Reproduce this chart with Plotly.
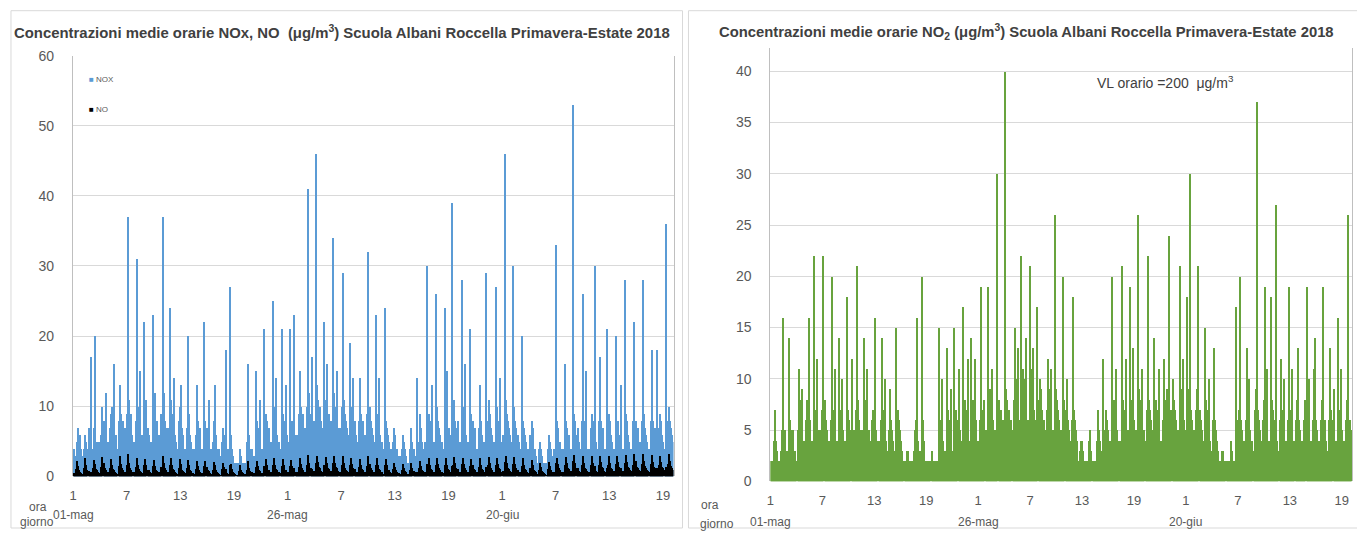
import plotly.graph_objects as go

W, H = 1357, 536
HOURS_PER_BAR = 3  # each value = one 3-hour block, 8 per day, 01-mag .. 09-lug

# NOx (ug/m3), one row per day, 8 three-hour blocks
nox_days = [
    [4,3,3,5,7,5,6,4], [3,2,4,6,5,4,7,5], [17,3,4,7,20,5,5,4], [5,4,6,10,8,7,12,5],
    [5,4,7,9,10,8,16,6], [6,4,8,13,9,7,8,6], [7,5,9,37,11,7,9,6], [5,4,8,31,10,7,15,6],
    [6,4,22,9,11,7,6,5], [5,4,23,8,12,7,8,6], [6,4,9,37,12,8,7,5], [7,5,24,11,9,7,14,6],
    [5,4,8,10,13,7,6,4], [4,3,7,20,9,6,5,4], [4,3,6,13,8,5,7,4], [4,3,22,8,7,6,11,4],
    [4,3,5,8,13,6,4,3], [4,3,5,7,6,5,18,4], [4,3,27,6,4,3,2,2], [2,1,2,4,3,2,2,2],
    [2,2,5,16,6,4,4,3], [3,2,15,8,7,5,11,4], [4,3,21,9,8,6,7,4], [5,4,25,10,8,14,6,5],
    [5,4,21,9,8,7,13,6], [5,4,21,8,7,8,23,6], [6,4,9,15,10,8,9,7], [7,5,10,41,12,9,17,7],
    [8,6,46,13,11,9,10,8], [7,5,22,11,16,8,9,6], [8,6,34,12,10,9,15,7], [7,6,10,29,11,9,8,7],
    [6,5,19,10,9,14,8,6], [5,4,8,14,9,7,8,5], [6,4,9,32,10,8,7,6], [5,4,23,9,8,14,6,5],
    [5,4,24,8,7,6,5,4], [4,3,5,7,6,4,4,3], [3,2,4,6,5,4,3,2], [2,2,4,7,5,4,3,3],
    [14,3,5,9,7,5,4,4], [5,4,30,9,8,6,13,5], [5,4,26,10,8,7,6,5], [5,4,24,9,15,6,7,4],
    [6,39,9,11,8,7,8,5], [5,4,28,10,8,16,6,5], [5,4,21,9,8,6,7,4], [4,4,7,13,8,6,5,4],
    [5,29,8,11,9,7,6,5], [5,4,27,10,8,7,14,5], [6,4,46,11,9,8,7,6], [5,4,30,10,8,7,6,5],
    [4,4,20,8,7,6,5,4], [4,3,6,8,7,4,4,3], [2,2,4,5,4,3,2,2], [2,2,4,6,5,4,3,3],
    [4,3,33,8,7,5,5,4], [4,3,16,8,7,5,6,4], [4,4,53,9,8,6,7,5], [4,4,8,26,8,6,15,4],
    [4,4,7,9,8,6,30,5], [4,4,8,17,8,6,7,4], [4,21,7,9,8,6,5,4], [4,4,20,8,8,6,13,4],
    [4,4,28,9,8,6,5,4], [4,4,8,22,8,6,7,5], [5,4,8,28,9,7,6,5], [4,4,8,18,8,6,7,4],
    [18,4,7,9,8,6,5,4], [36,4,8,10,8,7,6,5],
]

# NO (ug/m3)
no_days = [
    [0.5,0.4,1.1,2.3,1.5,0.9,0.7,0.5], [0.4,0.3,1.3,2.6,1.7,1.0,0.8,0.6], [0.6,0.4,1.2,2.4,1.8,1.1,0.9,0.6],
    [0.5,0.4,1.4,2.8,1.9,1.2,1.0,0.7], [0.6,0.5,1.3,2.5,1.6,1.1,0.9,0.6], [0.5,0.4,1.5,2.9,1.8,1.2,0.9,0.7],
    [0.7,0.5,1.6,3.2,2.0,1.3,1.0,0.7], [0.6,0.4,1.4,2.7,1.7,1.1,0.8,0.6], [0.5,0.4,1.6,2.5,1.6,1.0,0.9,0.6],
    [0.5,0.4,1.5,2.4,1.5,1.0,0.8,0.5], [0.6,0.5,1.4,3.0,1.9,1.2,0.9,0.7], [0.6,0.5,1.7,2.6,1.7,1.1,1.0,0.7],
    [0.5,0.4,1.3,2.5,1.8,1.0,0.8,0.6], [0.5,0.3,1.2,2.4,1.6,1.0,0.8,0.5], [0.4,0.3,1.1,2.2,1.5,0.9,0.7,0.5],
    [0.5,0.4,1.5,2.3,1.4,0.9,0.8,0.5], [0.4,0.3,1.0,2.1,1.6,0.9,0.7,0.5], [0.4,0.3,1.1,2.0,1.4,0.9,1.1,0.5],
    [0.4,0.3,1.6,1.8,1.1,0.7,0.5,0.4], [0.3,0.3,0.8,1.6,1.0,0.6,0.5,0.4], [0.4,0.3,1.0,2.2,1.3,0.8,0.7,0.5],
    [0.5,0.4,1.4,2.3,1.5,0.9,0.8,0.5], [0.5,0.4,1.5,2.5,1.6,1.0,0.9,0.6], [0.6,0.5,1.6,2.6,1.7,1.1,0.9,0.6],
    [0.6,0.5,1.5,2.5,1.6,1.0,1.0,0.7], [0.6,0.5,1.5,2.4,1.5,1.1,1.3,0.7], [0.7,0.5,1.4,2.7,1.8,1.2,1.0,0.7],
    [0.7,0.6,1.6,3.1,2.0,1.3,1.1,0.8], [0.8,0.6,2.0,3.0,2.1,1.4,1.2,0.8], [0.7,0.6,1.7,2.8,1.9,1.3,1.1,0.8],
    [0.8,0.6,1.9,2.9,2.0,1.4,1.2,0.8], [0.7,0.6,1.6,2.9,2.0,1.3,1.0,0.8], [0.7,0.5,1.6,2.7,1.8,1.2,1.1,0.7],
    [0.6,0.5,1.4,2.5,1.7,1.1,1.0,0.7], [0.7,0.5,1.5,2.9,1.8,1.2,1.0,0.7], [0.6,0.5,1.7,2.6,1.7,1.1,0.9,0.7],
    [0.6,0.4,1.6,2.5,1.6,1.0,0.9,0.6], [0.5,0.4,1.1,2.0,1.4,0.9,0.7,0.5], [0.4,0.3,0.9,1.8,1.3,0.8,0.6,0.4],
    [0.4,0.3,1.0,1.9,1.3,0.8,0.7,0.5], [0.6,0.4,1.2,2.3,1.5,1.0,0.8,0.6], [0.6,0.5,1.8,2.6,1.7,1.1,1.0,0.7],
    [0.7,0.5,1.7,2.7,1.8,1.2,1.0,0.7], [0.7,0.5,1.6,2.6,1.7,1.1,1.0,0.7], [0.7,1.5,1.6,2.8,1.9,1.2,1.1,0.7],
    [0.7,0.5,1.8,2.7,1.8,1.2,1.0,0.7], [0.6,0.5,1.5,2.5,1.7,1.1,1.0,0.6], [0.6,0.5,1.4,2.6,1.7,1.1,0.9,0.6],
    [0.7,1.4,1.6,2.8,1.9,1.2,1.0,0.7], [0.7,0.5,1.7,2.7,1.8,1.2,1.1,0.7], [0.8,0.6,2.1,3.0,2.0,1.3,1.1,0.8],
    [0.7,0.5,1.8,2.8,1.8,1.2,1.0,0.7], [0.6,0.5,1.5,2.6,1.7,1.1,0.9,0.6], [0.5,0.4,1.3,2.4,1.6,1.0,0.8,0.6],
    [0.4,0.3,1.0,2.0,1.4,0.8,0.7,0.5], [0.4,0.3,1.1,2.1,1.5,0.9,0.7,0.5], [0.6,0.5,1.9,2.7,1.8,1.2,1.0,0.7],
    [0.7,0.5,1.6,2.8,1.9,1.2,1.1,0.7], [0.8,0.6,2.2,3.1,2.0,1.3,1.2,0.8], [0.7,0.6,1.6,3.0,2.0,1.3,1.1,0.8],
    [0.7,0.6,1.6,2.9,2.0,1.3,1.5,0.8], [0.7,0.6,1.7,3.0,2.1,1.4,1.2,0.8], [0.7,1.3,1.6,2.9,2.0,1.3,1.1,0.8],
    [0.8,0.6,1.8,3.0,2.1,1.4,1.2,0.8], [0.8,0.6,1.9,3.1,2.1,1.4,1.2,0.9], [0.8,0.6,1.7,3.2,2.2,1.4,1.3,0.9],
    [0.8,0.6,1.8,3.2,2.2,1.5,1.3,0.9], [0.8,0.7,1.8,3.1,2.1,1.4,1.3,0.9], [1.2,0.7,1.7,3.0,2.1,1.4,1.2,0.9],
    [1.4,0.7,1.8,3.2,2.2,1.5,1.3,0.9],
]

# NO2 (ug/m3)
no2_days = [
    [2,2,2,4,7,4,3,2], [2,2,3,5,16,4,5,3], [3,2,14,6,5,4,5,3], [3,2,5,11,8,6,9,4],
    [4,3,6,8,7,16,6,4], [4,3,22,7,6,12,5,4], [5,4,7,22,8,6,5,4], [4,3,6,20,7,6,11,4],
    [4,3,14,7,6,10,5,4], [4,3,18,7,6,5,12,4], [5,4,7,21,8,6,5,5], [5,4,14,8,7,11,5,5],
    [4,3,6,7,6,16,5,4], [4,3,6,14,7,5,10,4], [3,2,5,9,6,5,4,3], [3,15,5,7,6,5,4,3],
    [2,2,2,3,3,2,2,2], [2,1,3,5,6,16,4,3], [3,2,20,6,4,2,2,2], [2,1,2,3,2,2,2,1],
    [2,2,15,6,5,10,4,3], [3,2,13,7,6,5,9,3], [3,15,6,7,6,11,5,4], [4,17,6,8,7,6,12,4],
    [4,14,6,8,7,12,6,4], [4,3,6,19,7,6,8,5], [5,19,7,9,8,11,6,5], [5,4,30,0,8,7,7,6],
    [6,5,40,9,8,7,7,6], [6,5,8,15,10,8,13,6], [6,22,9,11,10,8,14,6], [6,5,21,11,10,13,7,6],
    [6,17,8,10,9,7,6,6], [5,4,7,12,9,7,11,5], [5,4,26,9,8,7,6,5], [5,4,20,8,7,10,6,5],
    [4,3,6,18,7,6,5,4], [2,2,3,4,4,3,2,2], [2,1,2,4,5,3,2,2], [2,2,4,7,5,4,3,2],
    [12,3,5,7,6,5,4,3], [4,20,6,8,7,11,5,4], [4,3,21,8,7,6,12,5], [5,4,19,8,7,13,6,5],
    [5,4,26,9,8,7,11,5], [5,4,7,22,8,7,6,5], [4,14,6,8,7,6,11,4], [4,3,6,12,8,6,9,4],
    [24,4,7,10,8,7,6,5], [5,4,21,9,8,12,6,5], [5,18,7,9,30,7,6,5], [5,4,7,9,21,7,6,5],
    [4,3,15,8,7,6,10,4], [3,3,6,13,6,5,4,3], [2,2,2,3,3,2,2,2], [2,1,2,4,3,2,2,2],
    [17,3,6,7,20,6,5,4], [4,3,6,13,7,10,5,4], [4,3,7,9,37,7,6,5], [4,3,6,8,19,6,11,4],
    [4,3,18,8,7,6,6,27], [4,3,6,12,7,6,10,4], [4,3,6,19,7,6,11,4], [4,0,6,8,13,6,5,4],
    [4,3,6,8,19,6,10,4], [4,3,6,11,14,6,5,4], [4,3,6,8,19,6,6,4], [3,3,6,13,7,6,9,4],
    [4,3,16,7,6,11,5,4], [4,3,6,8,26,6,6,5],
]

hour_labels = ["1", "7", "13", "19"] * 3
day_labels = ["01-mag", "26-mag", "20-giu"]
LABEL_STEP_H = 150          # Excel shows one hour label every 150 categories
DAY_LABEL_EVERY = 4         # a day label on every 4th hour label

nox = [v for d in nox_days for v in d]
no = [v for d in no_days for v in d]
no2 = [v for d in no2_days for v in d]


def centers(vals):
    return [HOURS_PER_BAR * i + HOURS_PER_BAR / 2 for i in range(len(vals))]


n_hours = len(nox) * HOURS_PER_BAR
tickvals = [k * LABEL_STEP_H + 0.5 for k in range(len(hour_labels))]
dayvals = [k * LABEL_STEP_H * DAY_LABEL_EVERY + 0.5 for k in range(len(day_labels))]

BLUE = "#5b9bd5"
GREEN = "#68a33e"
GRID = "#d9d9d9"
TXT = "#595959"
FONT = "Liberation Sans"

fig = go.Figure()
fig.add_trace(go.Bar(x=centers(nox), y=nox, width=HOURS_PER_BAR, marker=dict(color=BLUE, line=dict(width=0)),
                     name="NOX", xaxis="x", yaxis="y", showlegend=False))
fig.add_trace(go.Bar(x=centers(no), y=no, width=HOURS_PER_BAR, marker=dict(color="#000000", line=dict(width=0)),
                     name="NO", xaxis="x", yaxis="y", showlegend=False))
fig.add_trace(go.Bar(x=centers(no2), y=no2, width=HOURS_PER_BAR, marker=dict(color=GREEN, line=dict(width=0)),
                     name="NO2", xaxis="x2", yaxis="y2", showlegend=False))

# the photographed page comes out vertically as about 7.3 + 0.971*y, so place things to land on target rows
Y_OFF, Y_SCALE = 7.3, 0.971


def px(x):
    return x / W


def py(y):
    yi = (y - Y_OFF) / Y_SCALE
    return 1 - yi / H


xcommon = dict(range=[0, n_hours], tickmode="array", tickvals=tickvals, ticktext=hour_labels,
               ticks="outside", ticklen=7, tickcolor="rgba(0,0,0,0)", showgrid=False, zeroline=False,
               showline=False, tickfont=dict(family=FONT, size=13, color=TXT), fixedrange=True)
ycommon = dict(showgrid=True, gridcolor=GRID, gridwidth=1, zeroline=False, showline=True, linecolor="#bfbfbf",
               mirror=True, ticks="outside", ticklen=15, tickcolor="rgba(0,0,0,0)",
               tickfont=dict(family=FONT, size=14, color=TXT), fixedrange=True)

fig.update_layout(
    width=W, height=H, margin=dict(l=0, r=0, t=0, b=0),
    paper_bgcolor="white", plot_bgcolor="white",
    barmode="overlay", bargap=0,
    font=dict(family=FONT, color=TXT),
    xaxis=dict(domain=[px(70), px(672)], anchor="y", **xcommon),
    yaxis=dict(domain=[py(476), py(55)], anchor="x", range=[0, 60], dtick=10, **ycommon),
    xaxis2=dict(domain=[px(769), px(1352)], anchor="y2", **xcommon),
    yaxis2=dict(domain=[py(481), py(47)], anchor="x2", range=[0, 42.3], tickvals=list(range(0, 41, 5)), **ycommon),
)


def note(text, x, y, size, color=TXT, xanchor="center", xref="paper"):
    return dict(text=text, x=x, y=y, xref=xref, yref="paper", showarrow=False,
                xanchor=xanchor, yanchor="middle", font=dict(family=FONT, size=size, color=color))


ann = []
ann.append(note("<b>Concentrazioni medie orarie NOx, NO\u00a0 (μg/m<sup>3</sup>) Scuola Albani Roccella Primavera-Estate 2018</b>",
                px(340), py(31), 14.9, "#404040"))
ann.append(note("<b>Concentrazioni medie orarie NO<sub>2</sub> (μg/m<sup>3</sup>) Scuola Albani Roccella Primavera-Estate 2018</b>",
                px(1026), py(31), 14.8, "#404040"))
ann.append(note("VL orario =200\u00a0 μg/m<sup>3</sup>", px(1165), py(81), 14, "#404040"))
# legend
ann.append(note(f"<span style='color:{BLUE}'>■</span> NOX", px(84), py(79), 8, xanchor="left"))
ann.append(note("<span style='color:#000000'>■</span> NO", px(84), py(109), 8, xanchor="left"))
# ora / giorno
for (xo, yo, xg, yg) in [(35, 507, 34, 522), (709, 505, 716, 524)]:
    ann.append(note("ora", px(xo), py(yo), 12))
    ann.append(note("giorno", px(xg), py(yg), 12))
# day labels
for xa, ypos in [("x", 515), ("x2", 522)]:
    for v, t in zip(dayvals, day_labels):
        ann.append(note(t, v, py(ypos), 12, xref=xa))
fig.update_layout(annotations=ann)

fig.update_layout(shapes=[
    dict(type="rect", xref="paper", yref="paper", x0=px(8), x1=px(681), y0=0, y1=py(10),
         line=dict(color=GRID, width=1)),
    dict(type="rect", xref="paper", yref="paper", x0=px(687), x1=px(1360), y0=0, y1=py(10),
         line=dict(color=GRID, width=1)),
])

pin = ("var d=document.getElementById('{plot_id}');"
       "d.style.position='fixed';d.style.top='0px';d.style.left='0px';"
       "document.body.style.margin='0px';document.documentElement.style.overflow='hidden';")
fig.write_html("out.html", config={"displayModeBar": False}, post_script=pin)
